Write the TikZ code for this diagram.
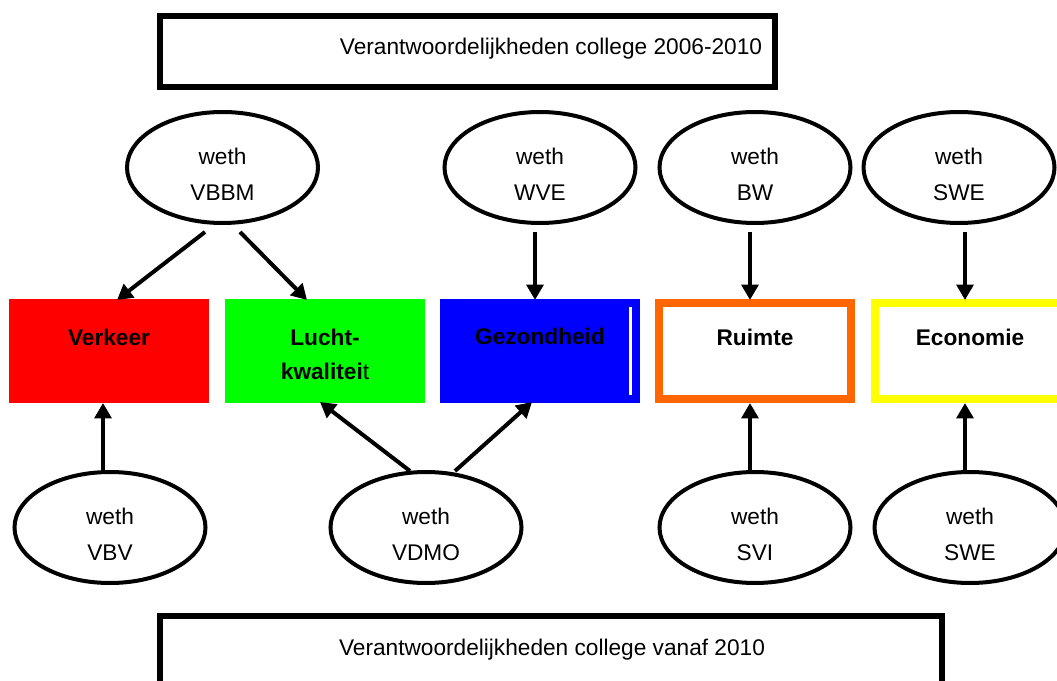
\documentclass[tikz,border=0pt]{standalone}
\usepackage{fontspec}
\setmainfont{Liberation Sans}
\usetikzlibrary{arrows.meta,shapes.geometric,calc}
\definecolor{cRed}{HTML}{FF0000}
\definecolor{cGreen}{HTML}{00FF00}
\definecolor{cBlue}{HTML}{0000FF}
\definecolor{cOrange}{HTML}{FF6600}
\definecolor{cYellow}{HTML}{FFFF00}
\begin{document}
\begin{tikzpicture}[x=0.75pt,y=-0.75pt,
  ov/.style={draw, ellipse, line width=3pt, minimum width=143.25pt, minimum height=83.25pt, inner sep=0pt, outer sep=0pt},
  lbl/.style={anchor=base, inner sep=0pt, outer sep=0pt, font=\fontsize{17}{20}\selectfont},
  blbl/.style={anchor=base, inner sep=0pt, outer sep=0pt, font=\fontsize{17}{20}\selectfont\bfseries},
  fillbox/.style={rectangle, minimum width=150pt, minimum height=78pt, inner sep=0pt, outer sep=0pt},
  framebox/.style={rectangle, draw, line width=6pt, fill=white, minimum width=144pt, minimum height=72pt, inner sep=0pt, outer sep=0pt},
  titlebox/.style={rectangle, draw, line width=4.5pt, inner sep=0pt, outer sep=0pt},
  arr/.style={line width=3pt, -{Triangle[length=11.5pt,width=12.5pt]}}]
\useasboundingbox (0,0) rectangle (1057,681);
\clip (0,0) rectangle (1057,681);

% title boxes
\node[titlebox, minimum width=461.25pt, minimum height=53.6pt] (topbox) at (467.5,51.25) {};
\node[lbl] (toptext) at (551,55) {Verantwoordelijkheden college 2006-2010};
\node[titlebox, minimum width=586.5pt, minimum height=85.5pt] (botbox) at (551,673) {};
\node[lbl] (bottext) at (552,655) {Verantwoordelijkheden college vanaf 2010};

% theme boxes
\node[fillbox, fill=cRed] (verkeer) at (109,351) {};
\node[blbl] (verkeer-t) at (109,345) {Verkeer};
\node[fillbox, fill=cGreen] (lucht) at (325,351) {};
\node[blbl] (lucht-t1) at (325,345) {Lucht-};
\node[blbl] (lucht-t2) at (325,379.5) {kwalitei\textmd{t}};
\node[fillbox, fill=cBlue] (gez) at (540,351) {};
\node[blbl] (gez-t) at (540,344) {Gezondheid};
\draw[white, line width=2.25pt] ($(gez.east)+(-10,-44)$) -- ($(gez.east)+(-10,44)$);
\node[framebox, draw=cOrange] (ruimte) at (755,351) {};
\node[blbl] (ruimte-t) at (755,345) {Ruimte};
\node[framebox, draw=cYellow] (econ) at (971,351) {};
\node[blbl] (econ-t) at (970,345) {Economie};

% wethouders
\foreach \n/\x/\y/\t in {vbbm/222.5/167.5/VBBM, wve/540/167.5/WVE, bw/755/167.5/BW, swea/959/167.5/SWE,
                          vbv/110/527.5/VBV, vdmo/426/527.5/VDMO, svi/755/527.5/SVI, sweb/970/527.5/SWE}{
  \node[ov] (\n) at (\x,\y) {};
  \node[lbl] (\n-a) at (\x,\y-3) {weth};
  \node[lbl] (\n-b) at (\x,\y+33) {\t};
}

% connectors 2006-2010
\draw[arr] ($(vbbm.south)+(-17.5,9)$) -- ($(verkeer.north)+(8,1)$);
\draw[arr] ($(vbbm.south)+(17.5,9)$) -- ($(lucht.north)+(-18,1)$);
\draw[arr] ($(wve.south)+(-5,9)$) -- ($(gez.north)+(-5,1)$);
\draw[arr] ($(bw.south)+(-5,9)$) -- ($(ruimte.north)+(-5,-3)$);
\draw[arr] ($(swea.south)+(6,9)$) -- ($(econ.north)+(-6,-3)$);

% connectors vanaf 2010
\draw[arr] ($(vbv.north)+(-7,0)$) -- ($(verkeer.south)+(-6,0)$);
\draw[arr] ($(vdmo.north)+(-16,-1)$) -- ($(lucht.south)+(-5,-1)$);
\draw[arr] ($(vdmo.north)+(29,-1)$) -- ($(gez.south)+(-8,-1)$);
\draw[arr] ($(svi.north)+(-5,0)$) -- ($(ruimte.south)+(-5,4)$);
\draw[arr] ($(sweb.north)+(-5,0)$) -- ($(econ.south)+(-6,4)$);
\end{tikzpicture}
\end{document}
